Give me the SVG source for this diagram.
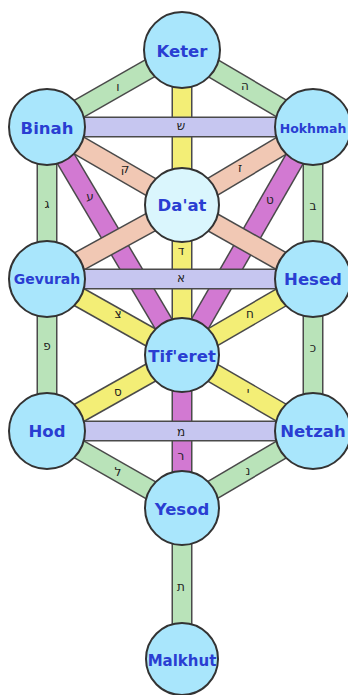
<svg xmlns="http://www.w3.org/2000/svg" width="348" height="695" viewBox="0 0 348 695">
<style>
.o{stroke:#4a4a4a;stroke-width:21;stroke-linecap:butt}
.g{stroke:#b9e3b9;stroke-width:18}
.p{stroke:#f1c8b4;stroke-width:18}
.m{stroke:#d279d2;stroke-width:18}
.y{stroke:#f3ee76;stroke-width:18}
.l{stroke:#c6c6f0;stroke-width:18}
.lt{font-family:"DejaVu Sans",sans-serif;font-size:12px;fill:#222;text-anchor:middle;dominant-baseline:central}
.n circle{fill:#a9e6fc;stroke:#333;stroke-width:2}
.n text{font-family:"DejaVu Sans","Liberation Sans",sans-serif;font-weight:bold;font-size:16.5px;fill:#2a3ed2;text-anchor:middle;dominant-baseline:central}
</style>
<rect width="348" height="695" fill="#fff"/>
<g id="connectors">
<g id="e-keter-binah"><line class="o" x1="182" y1="50" x2="47" y2="127"/><line class="g" x1="182" y1="50" x2="47" y2="127"/><text class="lt" x="118" y="87">ו</text></g>
<g id="e-keter-hokhmah"><line class="o" x1="182" y1="50" x2="313" y2="127"/><line class="g" x1="182" y1="50" x2="313" y2="127"/><text class="lt" x="245" y="86">ה</text></g>
<g id="e-binah-gevurah"><line class="o" x1="47" y1="127" x2="47" y2="279"/><line class="g" x1="47" y1="127" x2="47" y2="279"/><text class="lt" x="47" y="204">ג</text></g>
<g id="e-hokhmah-hesed"><line class="o" x1="313" y1="127" x2="313" y2="279"/><line class="g" x1="313" y1="127" x2="313" y2="279"/><text class="lt" x="313" y="206">ב</text></g>
<g id="e-gevurah-hod"><line class="o" x1="47" y1="279" x2="47" y2="431"/><line class="g" x1="47" y1="279" x2="47" y2="431"/><text class="lt" x="47" y="346">פ</text></g>
<g id="e-hesed-netzah"><line class="o" x1="313" y1="279" x2="313" y2="431"/><line class="g" x1="313" y1="279" x2="313" y2="431"/><text class="lt" x="313" y="348">כ</text></g>
<g id="e-hod-yesod"><line class="o" x1="47" y1="431" x2="182" y2="508"/><line class="g" x1="47" y1="431" x2="182" y2="508"/><text class="lt" x="118" y="472">ל</text></g>
<g id="e-netzah-yesod"><line class="o" x1="313" y1="431" x2="182" y2="508"/><line class="g" x1="313" y1="431" x2="182" y2="508"/><text class="lt" x="248" y="471">נ</text></g>
<g id="e-yesod-malkhut"><line class="o" x1="182" y1="508" x2="182" y2="659"/><line class="g" x1="182" y1="508" x2="182" y2="659"/><text class="lt" x="181" y="587">ת</text></g>
<g id="e-binah-tiferet"><line class="o" x1="47" y1="127" x2="182" y2="355"/><line class="m" x1="47" y1="127" x2="182" y2="355"/><text class="lt" x="90" y="197">ע</text></g>
<g id="e-hokhmah-tiferet"><line class="o" x1="313" y1="127" x2="182" y2="355"/><line class="m" x1="313" y1="127" x2="182" y2="355"/><text class="lt" x="270" y="200">ט</text></g>
<g id="e-tiferet-yesod"><line class="o" x1="182" y1="355" x2="182" y2="508"/><line class="m" x1="182" y1="355" x2="182" y2="508"/><text class="lt" x="181" y="456">ר</text></g>
<g id="e-keter-daat"><line class="o" x1="182" y1="50" x2="182" y2="205"/><line class="y" x1="182" y1="50" x2="182" y2="205"/></g>
<g id="e-daat-tiferet"><line class="o" x1="182" y1="205" x2="182" y2="355"/><line class="y" x1="182" y1="205" x2="182" y2="355"/><text class="lt" x="181" y="251">ד</text></g>
<g id="e-gevurah-tiferet"><line class="o" x1="47" y1="279" x2="182" y2="355"/><line class="y" x1="47" y1="279" x2="182" y2="355"/><text class="lt" x="118" y="314">צ</text></g>
<g id="e-hesed-tiferet"><line class="o" x1="313" y1="279" x2="182" y2="355"/><line class="y" x1="313" y1="279" x2="182" y2="355"/><text class="lt" x="250" y="314">ח</text></g>
<g id="e-tiferet-hod"><line class="o" x1="182" y1="355" x2="47" y2="431"/><line class="y" x1="182" y1="355" x2="47" y2="431"/><text class="lt" x="118" y="392">ס</text></g>
<g id="e-tiferet-netzah"><line class="o" x1="182" y1="355" x2="313" y2="431"/><line class="y" x1="182" y1="355" x2="313" y2="431"/><text class="lt" x="248" y="392">י</text></g>
<g id="e-binah-daat"><line class="o" x1="47" y1="127" x2="182" y2="205"/><line class="p" x1="47" y1="127" x2="182" y2="205"/><text class="lt" x="125" y="169">ק</text></g>
<g id="e-hokhmah-daat"><line class="o" x1="313" y1="127" x2="182" y2="205"/><line class="p" x1="313" y1="127" x2="182" y2="205"/><text class="lt" x="240" y="168">ז</text></g>
<g id="e-daat-gevurah"><line class="o" x1="182" y1="205" x2="47" y2="279"/><line class="p" x1="182" y1="205" x2="47" y2="279"/></g>
<g id="e-daat-hesed"><line class="o" x1="182" y1="205" x2="313" y2="279"/><line class="p" x1="182" y1="205" x2="313" y2="279"/></g>
<g id="e-binah-hokhmah"><line class="o" x1="47" y1="127" x2="313" y2="127"/><line class="l" x1="47" y1="127" x2="313" y2="127"/><text class="lt" x="181" y="126">ש</text></g>
<g id="e-gevurah-hesed"><line class="o" x1="47" y1="279" x2="313" y2="279"/><line class="l" x1="47" y1="279" x2="313" y2="279"/><text class="lt" x="181" y="278">א</text></g>
<g id="e-hod-netzah"><line class="o" x1="47" y1="431" x2="313" y2="431"/><line class="l" x1="47" y1="431" x2="313" y2="431"/><text class="lt" x="181" y="432">מ</text></g>
</g>
<g id="keter" class="n"><circle cx="182" cy="50" r="38"/><text x="182" y="51">Keter</text></g>
<g id="binah" class="n"><circle cx="47" cy="127" r="38"/><text x="47" y="128">Binah</text></g>
<g id="hokhmah" class="n"><circle cx="313" cy="127" r="38"/><text x="313" y="128" style="font-size:12.5px">Hokhmah</text></g>
<g id="daat" class="n"><circle cx="182" cy="205" r="37" style="fill:#daf6fd"/><text x="182" y="205">Da'at</text></g>
<g id="gevurah" class="n"><circle cx="47" cy="279" r="38"/><text x="47" y="279" style="font-size:14px">Gevurah</text></g>
<g id="hesed" class="n"><circle cx="313" cy="279" r="38"/><text x="313" y="279">Hesed</text></g>
<g id="tiferet" class="n"><circle cx="182" cy="355" r="37"/><text x="182" y="356">Tif'eret</text></g>
<g id="hod" class="n"><circle cx="47" cy="431" r="38"/><text x="47" y="431">Hod</text></g>
<g id="netzah" class="n"><circle cx="313" cy="431" r="38"/><text x="313" y="431">Netzah</text></g>
<g id="yesod" class="n"><circle cx="182" cy="508" r="37"/><text x="182" y="509">Yesod</text></g>
<g id="malkhut" class="n"><circle cx="182" cy="659" r="36"/><text x="182" y="661" style="font-size:15px">Malkhut</text></g>
</svg>
